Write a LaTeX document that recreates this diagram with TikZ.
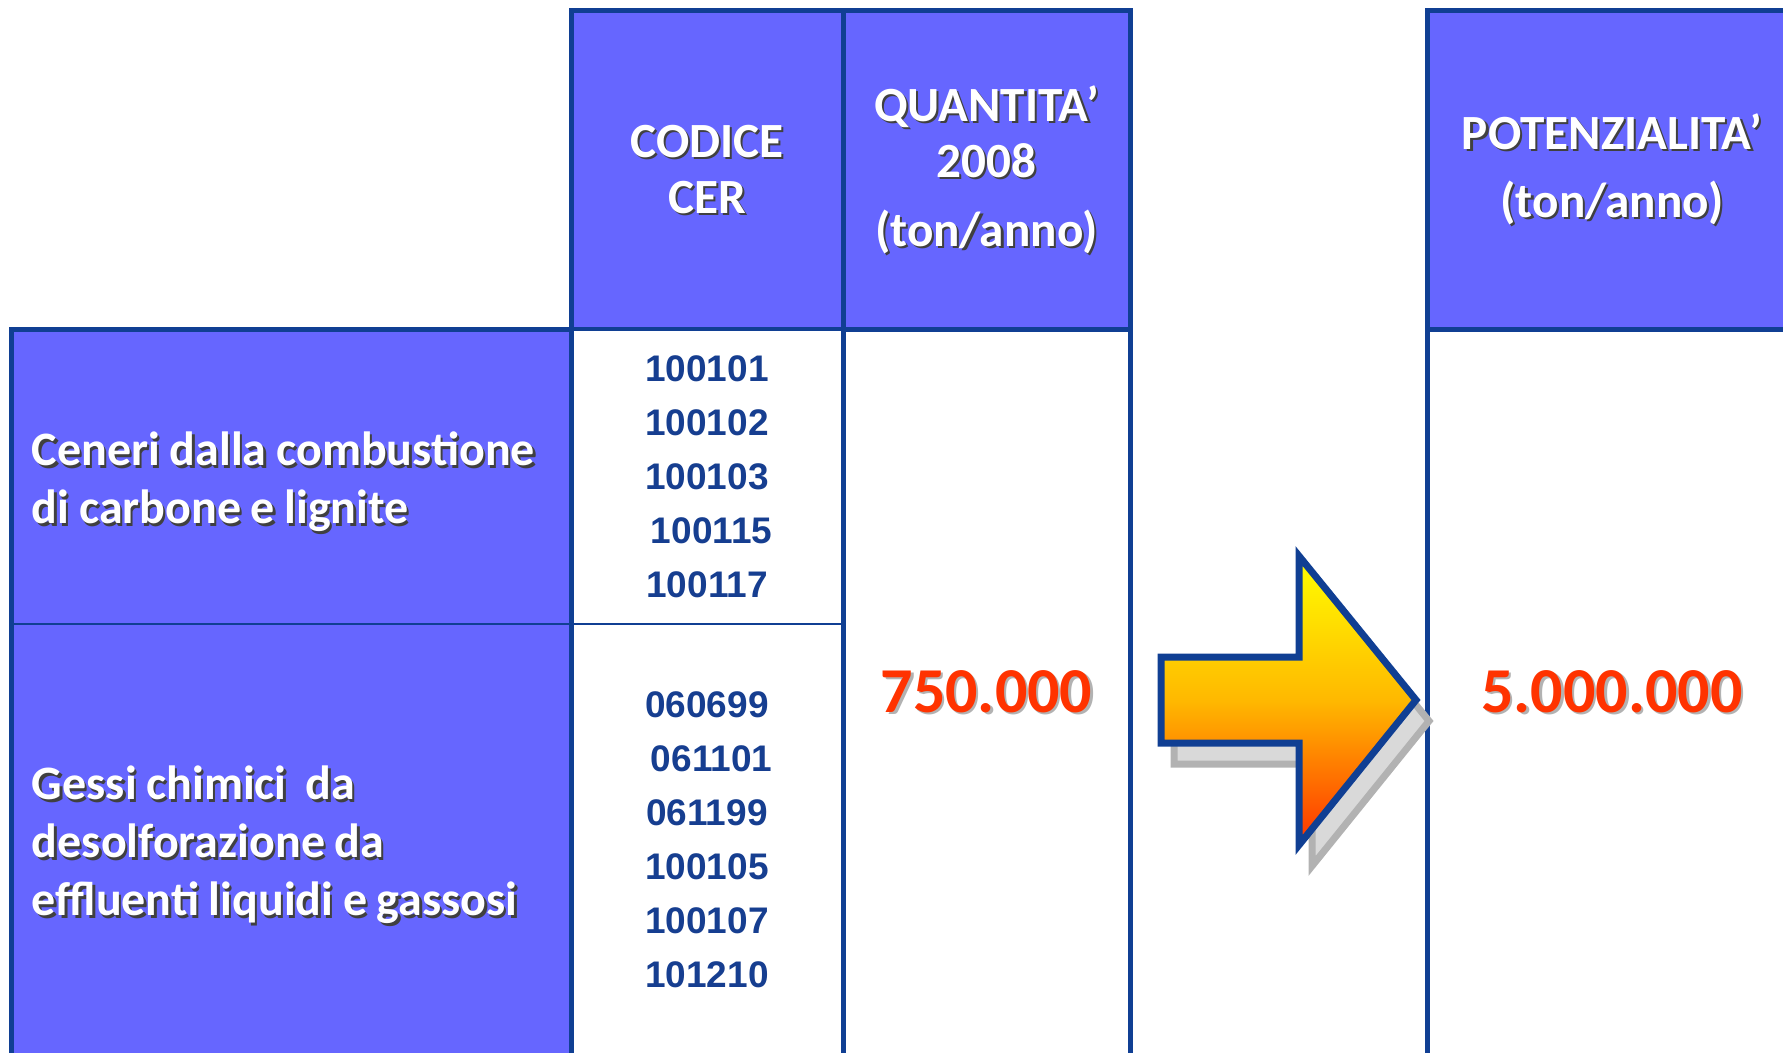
\documentclass[tikz,border=0pt]{standalone}
\usepackage{fontspec}
\setmainfont{Carlito}
\newfontfamily\codefont{Liberation Sans}
\usepackage{tikz}
\usetikzlibrary{positioning}
\definecolor{cellbg}{HTML}{6666FF}
\definecolor{framec}{HTML}{103F93}
\definecolor{codec}{HTML}{163E90}
\definecolor{numred}{HTML}{FF3300}
\definecolor{shdfill}{HTML}{D9D9D9}
\definecolor{shdline}{HTML}{B2B2B2}
\definecolor{arrowtop}{HTML}{FFFF00}
\definecolor{arrowmid}{HTML}{FFB800}
\definecolor{arrowbot}{HTML}{FF3300}

% white text with a dark shadow, red figures with a light one
\newcommand{\wshd}[1]{\leavevmode\rlap{\kern1.1pt\raisebox{-1.1pt}{\textcolor{black!75}{#1}}}\textcolor{white}{#1}}
\newcommand{\rshd}[1]{\leavevmode\rlap{\kern1.2pt\raisebox{-1.2pt}{\textcolor{black!30}{#1}}}\textcolor{numred}{#1}}
\newcommand{\tightsp}{\spaceskip=0.2em\relax}

\begin{document}
\begin{tikzpicture}[x=0.5pt,y=-0.5pt,
  cell/.style={rectangle,outer sep=0pt,inner sep=0pt,draw=framec},
  headcell/.style={cell,fill=cellbg,line width=2.5pt,minimum height=159.5pt,align=center,
        font=\fontsize{24.6}{28}\selectfont\bfseries},
  leftcell/.style={cell,fill=cellbg,line width=1pt,text width=259pt,inner xsep=10.5pt,
        align=left,font=\fontsize{24}{29}\selectfont\bfseries},
  codecell/.style={cell,fill=white,line width=1pt,minimum width=136pt,align=center,
        text=codec,font=\codefont\fontsize{18.5}{27}\selectfont\bfseries},
  bodycell/.style={cell,fill=white,line width=2.5pt,minimum height=363pt,
        font=\fontsize{32}{36}\selectfont\bfseries},
  frame/.style={draw=framec,line width=2.5pt,line join=miter}]

  \useasboundingbox (0,0) rectangle (1783,1053);
  \clip (0,0) rectangle (1783,1053);

  % header row
  \node[headcell,minimum width=136pt,anchor=north west] (codice) at (571,11)
    {\wshd{CODICE}\\\wshd{CER}};
  \node[headcell,minimum width=143.5pt,right=0pt of codice] (quant)
    {\wshd{QUANTITA’}\\\wshd{2008}\\[6.5pt]\wshd{(ton/anno)}};
  \node[headcell,minimum width=185pt,anchor=north west] (pot) at (1427,11)
    {\wshd{POTENZIALITA’}\\[6pt]\wshd{(ton/anno)}};

  % CER codes
  \node[codecell,minimum height=147pt,below=0pt of codice] (cer1)
    {100101\\100102\\100103\\\hspace*{4.6pt}100115\\100117};
  \node[codecell,minimum height=216pt,below=0pt of cer1] (cer2)
    {060699\\\hspace*{4.6pt}061101\\061199\\100105\\100107\\101210};

  % waste types
  \node[leftcell,minimum height=147pt,left=0pt of cer1] (ceneri)
    {\tightsp\rule{0pt}{23pt}\wshd{Ceneri dalla combustione}\\\wshd{di carbone e lignite}};
  \node[leftcell,minimum height=216pt,left=0pt of cer2] (gessi)
    {\tightsp\rule{0pt}{23pt}\wshd{Gessi chimici\ \ da}\\\wshd{desolforazione da}\\\wshd{effluenti liquidi e gassosi}};

  % quantities
  \node[bodycell,minimum width=143.5pt,below=0pt of quant] (qbody) {\rshd{750.000}};
  \node[bodycell,minimum width=185pt,below=0pt of pot] (pbody) {\rshd{5.000.000}};

  \draw[frame] (gessi.south west) -- (ceneri.north west) -- (cer1.north west) -- (cer2.south west);

  % arrow with its shadow
  \begin{scope}[shift={(13,21)}]
    \draw[fill=shdfill,draw=shdline,line width=3.5pt,line join=miter]
      (1161,657) -- (1299,657) -- (1299,556) -- (1416,700) -- (1299,845) -- (1299,743) -- (1161,743) -- cycle;
  \end{scope}
  \draw[draw=framec,line width=3.5pt,line join=miter,top color=arrowtop,bottom color=arrowbot,middle color=arrowmid]
    (1161,657) -- (1299,657) -- (1299,556) -- (1416,700) -- (1299,845) -- (1299,743) -- (1161,743) -- cycle;
\end{tikzpicture}
\end{document}
